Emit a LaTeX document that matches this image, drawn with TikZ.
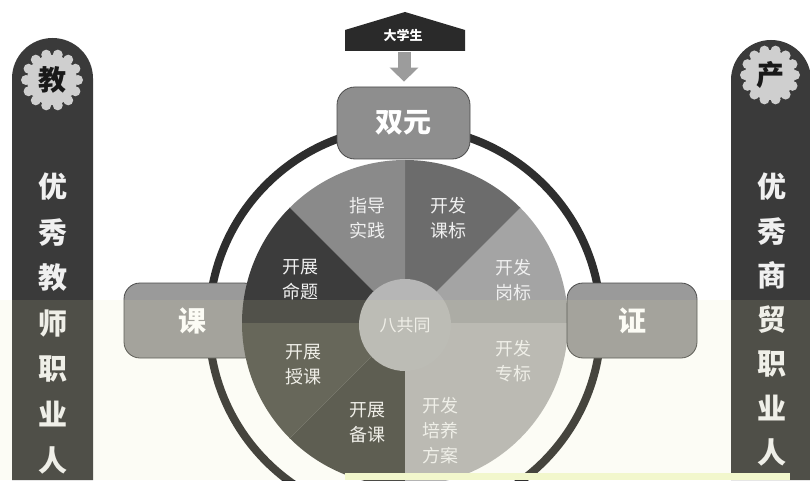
\documentclass[tikz,border=0pt]{standalone}
\usepackage{fontspec}
\setmainfont{Noto Sans CJK SC}
\usetikzlibrary{arrows.meta}
\definecolor{stripc}{HTML}{3A3A3A}
\definecolor{badgec}{HTML}{CFCFCF}
\definecolor{ringc}{HTML}{2E2E2E}
\definecolor{boxc}{HTML}{9A9A9A}
\definecolor{boxline}{HTML}{4C4C4C}
\definecolor{hatc}{HTML}{2A2A2A}
\definecolor{arrowc}{HTML}{9C9C9C}
\definecolor{sA}{HTML}{A4A4A4}
\definecolor{sB}{HTML}{6C6C6C}
\definecolor{sC}{HTML}{8A8A8A}
\definecolor{sD}{HTML}{3C3C3C}
\definecolor{sE}{HTML}{55554F}
\definecolor{sF}{HTML}{4B4B46}
\definecolor{sG}{HTML}{B4B4B4}
\definecolor{innerc}{HTML}{B6B6B6}
\definecolor{lighttext}{HTML}{F0F0F0}
\definecolor{tintc}{HTML}{EEEAB0}
\definecolor{bandc}{HTML}{F2F7CC}
\begin{document}
\begin{tikzpicture}[x=1pt,y=1pt,
  striptext/.style={text=lighttext, font=\fontsize{29}{29}\selectfont\bfseries, inner sep=0pt},
  badge/.style={circle, fill=badgec, minimum size=50pt, inner sep=0pt, text=black!90, font=\fontsize{28}{28}\selectfont\bfseries},
  sectortext/.style={text=lighttext, font=\fontsize{18}{25}\selectfont, align=center, inner sep=0pt},
  bigbox/.style={draw=boxline, line width=0.8pt, fill=boxc, rounded corners=16pt, inner sep=0pt, text=white, font=\fontsize{28}{28}\selectfont\bfseries}
]
\useasboundingbox (0,0) rectangle (810,480);
\fill[white] (0,0) rectangle (810,480);

% side strips
\fill[stripc] (12,0) -- (12,401.5) arc[start angle=180, end angle=0, radius=40.5] -- (93,0) -- cycle;
\fill[stripc] (731,0) -- (731,400) arc[start angle=180, end angle=0, radius=40] -- (811,0) -- cycle;
\foreach \i in {0,...,13} {
  \fill[badgec] (52,400) ++(\i*360/14:26) circle[radius=5];
  \fill[badgec] (770,405) ++(\i*360/14:25) circle[radius=5];
}
\node[badge] (jiao) at (52,400) {教};
\node[badge] (chan) at (770,405) {产};
\foreach \t [count=\k from 0] in {优,秀,教,师,职,业,人}
  \node[striptext] (L\k) at (53,293-45.5*\k) {\t};
\foreach \t [count=\k from 0] in {优,秀,商,贸,职,业,人}
  \node[striptext] (R\k) at (772,293-44.3*\k) {\t};

% ring
\coordinate (O) at (405,157);
\draw[ringc, line width=8pt] (O) circle[radius=196];

% left box (under pie)
\node[bigbox, minimum width=136pt, minimum height=75pt] (ke) at (192,159.5) {课};

% pie sectors
\fill[sA] (O) -- ++(0:163) arc[start angle=0, end angle=45, radius=163] -- cycle;
\fill[sB] (O) -- ++(45:163) arc[start angle=45, end angle=90, radius=163] -- cycle;
\fill[sC] (O) -- ++(90:163) arc[start angle=90, end angle=135, radius=163] -- cycle;
\fill[sD] (O) -- ++(135:163) arc[start angle=135, end angle=180, radius=163] -- cycle;
\fill[sE] (O) -- ++(180:163) arc[start angle=180, end angle=225, radius=163] -- cycle;
\fill[sF] (O) -- ++(225:163) arc[start angle=225, end angle=270, radius=163] -- cycle;
\fill[sG] (O) -- ++(270:163) arc[start angle=270, end angle=360, radius=163] -- cycle;

\node[circle, fill=innerc, minimum size=92pt, inner sep=0pt, text=lighttext, font=\fontsize{17}{17}\selectfont] (ba) at (405,155) {八共同};

% right box (over pie)
\node[bigbox, minimum width=130pt, minimum height=75pt] (zheng) at (632,159.5) {证};

% sector labels
\node[sectortext] (s1) at (367,262) {指导\\实践};
\node[sectortext] (s2) at (448,262) {开发\\课标};
\node[sectortext] (s3) at (513,200) {开发\\岗标};
\node[sectortext] (s4) at (513,119) {开发\\专标};
\node[sectortext] (s5) at (440,49) {开发\\培养\\方案};
\node[sectortext] (s6) at (367,57) {开展\\备课};
\node[sectortext] (s7) at (303,115) {开展\\授课};
\node[sectortext] (s8) at (300,200) {开展\\命题};

% top box
\node[bigbox, fill=boxc!92!black, minimum width=133pt, minimum height=72pt, rounded corners=18pt] (sy) at (403.5,357) {双元};

% hat
\fill[hatc] (345,429) -- (345,450) -- (405,468) -- (465,450) -- (465,429) -- cycle;
\node[text=white, font=\fontsize{13}{13}\selectfont\bfseries, inner sep=0pt] (dxs) at (403,445) {大学生};
\coordinate (hatbottom) at (404,428);
\draw[arrowc, line width=13pt, -{Triangle[width=28pt,length=14pt]}] (hatbottom) -- ([yshift=5pt]sy.north -| hatbottom);

% scan tint
\fill[tintc, opacity=0.12] (0,0) rectangle (810,180);
\fill[bandc] (345,0) rectangle (790,7);
\end{tikzpicture}
\end{document}
